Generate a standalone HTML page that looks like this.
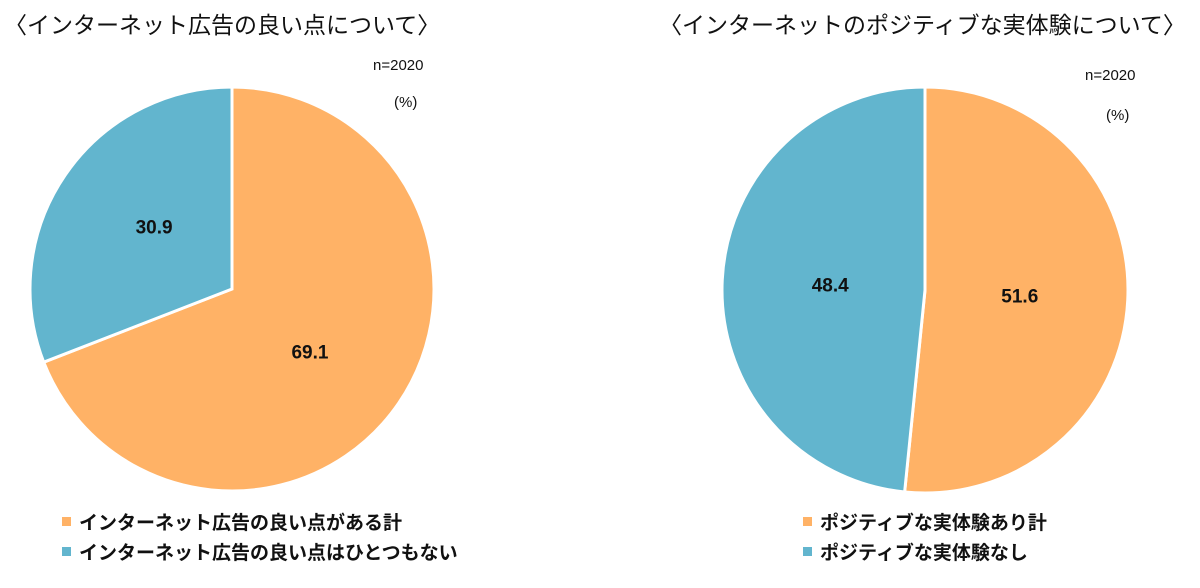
<!DOCTYPE html>
<html><head><meta charset="utf-8"><style>
body{margin:0;background:#fff;width:1200px;height:583px;overflow:hidden;font-family:"Liberation Sans","Noto Sans CJK JP",sans-serif}
svg text{font-family:"Liberation Sans","Noto Sans CJK JP",sans-serif}
</style></head><body>
<svg id="c" width="1200" height="583">
<text x="4" y="33" font-size="23" fill="#111">〈インターネット広告の良い点について〉</text>
<text x="373" y="70" font-size="15" fill="#111">n=2020</text>
<text x="394" y="107" font-size="15" fill="#111">(%)</text>
<text x="659" y="33" font-size="23" fill="#111">〈インターネットのポジティブな実体験について〉</text>
<text x="1085" y="80" font-size="15" fill="#111">n=2020</text>
<text x="1106" y="120" font-size="15" fill="#111">(%)</text>
<g id="legends"></g>
</svg>
<script>
const leftLabels=["インターネット広告の良い点がある計","インターネット広告の良い点はひとつもない"];
const leftValues=[69.1,30.9];
const rightLabels=["ポジティブな実体験あり計","ポジティブな実体験なし"];
const rightValues=[51.6,48.4];
const colors=["#FFB266","#62B5CE"];
const svg=document.getElementById('c');
const NS="http://www.w3.org/2000/svg";
function pie(vals,labels,cx,cy,r,lx,ly,prefix){
  const tot=vals.reduce((a,b)=>a+b,0);let a0=0;
  vals.forEach((v,i)=>{
    const a1=a0+v/tot*2*Math.PI;
    const x0=cx+r*Math.sin(a0),y0=cy-r*Math.cos(a0),x1=cx+r*Math.sin(a1),y1=cy-r*Math.cos(a1);
    const p=document.createElementNS(NS,'path');
    p.setAttribute('d',`M${cx},${cy}L${x0},${y0}A${r},${r} 0 ${a1-a0>Math.PI?1:0} 1 ${x1},${y1}Z`);
    p.setAttribute('fill',colors[i]);p.setAttribute('stroke','#fff');p.setAttribute('stroke-width','3');
    
    
    svg.appendChild(p);
    const m=(a0+a1)/2,k=r*0.55;
    const t=document.createElementNS(NS,'text');
    t.setAttribute('x',cx+k*Math.sin(m)*0.85);t.setAttribute('y',cy-k*Math.cos(m)+7);
    t.setAttribute('text-anchor','middle');t.setAttribute('font-size','19');t.setAttribute('font-weight','bold');t.setAttribute('fill','#111');
    t.textContent=v.toFixed(1);
    
    
    svg.appendChild(t);
    const s=document.createElementNS(NS,'rect');
    s.setAttribute('x',lx);s.setAttribute('y',ly+i*30-12);s.setAttribute('width',9);s.setAttribute('height',9);s.setAttribute('fill',colors[i]);
    
    
    svg.appendChild(s);
    const lt=document.createElementNS(NS,'text');
    lt.setAttribute('x',lx+17);lt.setAttribute('y',ly+i*30);lt.setAttribute('font-size','19');lt.setAttribute('font-weight','bold');lt.setAttribute('fill','#111');
    lt.textContent=labels[i];
    
    
    svg.appendChild(lt);
    a0=a1;
  });
}
pie(leftValues,leftLabels,232,289,202,62,529,'left');
pie(rightValues,rightLabels,925,290,203,803,529,'right');
</script>
</body></html>
